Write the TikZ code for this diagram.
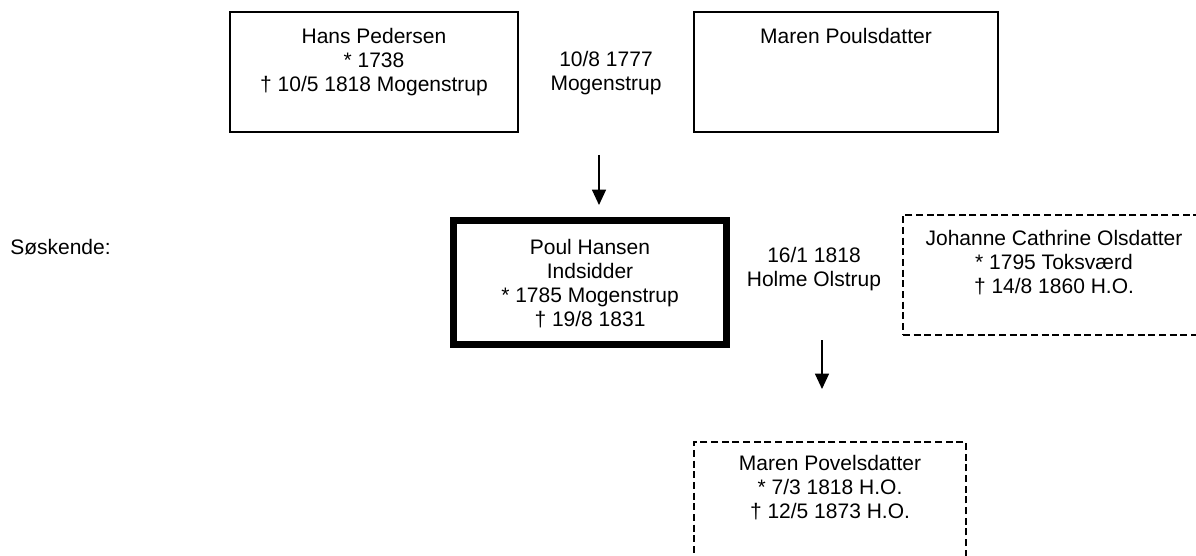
\documentclass[tikz,border=0pt]{standalone}
\usepackage{fontspec}
\setmainfont{Liberation Sans}
\usetikzlibrary{arrows.meta}
\tikzset{
  thinbox/.style={draw, line width=1.1pt, rectangle, inner sep=0pt, minimum height=90pt},
  thickbox/.style={draw, line width=5.25pt, rectangle, inner sep=0pt},
  dashbox/.style={draw, line width=1.1pt, rectangle, inner sep=0pt, minimum height=90pt, dash pattern=on 5.25pt off 2.75pt},
  txt/.style={anchor=north, inner sep=0pt, align=center, font=\fontsize{15.75pt}{18pt}\selectfont},
  arr/.style={line width=0.9pt, -{Triangle[width=10.5pt,length=11.5pt]}},
}
\begin{document}
\begin{tikzpicture}[x=0.75pt, y=-0.75pt]
\useasboundingbox (0,0) rectangle (1196,556);
% boxes
\node[thinbox, minimum width=216pt] (hans) at (374,72) {};
\node[thinbox, minimum width=228pt] (maren) at (846,72) {};
\node[thickbox, minimum width=204.75pt, minimum height=93pt] (poul) at (590,282.5) {};
\node[dashbox, minimum width=226.5pt] (johanne) at (1054,275) {};
\node[dashbox, minimum width=204pt] (povel) at (830,502) {};
% texts
\node[txt] (hanst) at (374,26.2) {\strut Hans Pedersen\\* 1738\\† 10/5 1818 Mogenstrup};
\node[txt] (marent) at (846,26.5) {\strut Maren Poulsdatter};
\node[txt] (poult) at (590,237.2) {\strut Poul Hansen\\Indsidder\\* 1785 Mogenstrup\\† 19/8 1831};
\node[txt] (johannet) at (1054,228.2) {\strut Johanne Cathrine Olsdatter\\* 1795 Toksværd\\† 14/8 1860 H.O.};
\node[txt] (povelt) at (830,453.9) {\strut Maren Povelsdatter\\* 7/3 1818 H.O.\\† 12/5 1873 H.O.};
\node[txt] (m1) at (606,49.9) {\strut 10/8 1777\\Mogenstrup};
\node[txt] (m2) at (814,245.9) {\strut 16/1 1818\\Holme Olstrup};
\node[anchor=base west, inner sep=0pt, font=\fontsize{15.75pt}{18pt}\selectfont] (sos) at (10,254) {Søskende:};
% arrows
\coordinate (a1s) at (599,155);
\coordinate (a1e) at (599,205);
\coordinate (a2s) at (822,340);
\coordinate (a2e) at (822,389);
\draw[arr] (a1s) -- (a1e);
\draw[arr] (a2s) -- (a2e);
\end{tikzpicture}
\end{document}
